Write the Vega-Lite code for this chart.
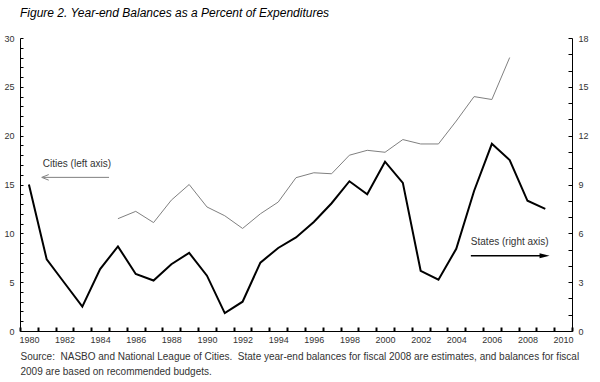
{
  "$schema": "https://vega.github.io/schema/vega-lite/v6.json",
  "width": 552,
  "height": 293,
  "padding": {"left": 3, "top": 7, "right": 5, "bottom": 5},
  "background": "#ffffff",
  "title": {
    "text": "Figure 2. Year-end Balances as a Percent of Expenditures",
    "anchor": "start",
    "frame": "group",
    "font": "Liberation Sans",
    "fontSize": 12,
    "fontStyle": "italic",
    "fontWeight": "normal",
    "color": "#000000",
    "offset": 14
  },
  "config": {
    "view": {"stroke": null},
    "axis": {
      "labelFont": "Liberation Sans",
      "titleFont": "Liberation Sans",
      "labelColor": "#333333",
      "domainColor": "#000000",
      "tickColor": "#000000",
      "grid": false,
      "labelOverlap": false,
      "labelFlush": false
    }
  },
  "datasets": {
    "cities": [
      {"year": 1985, "value": 11.5}, {"year": 1986, "value": 12.25}, {"year": 1987, "value": 11.1},
      {"year": 1988, "value": 13.4}, {"year": 1989, "value": 15.0}, {"year": 1990, "value": 12.7},
      {"year": 1991, "value": 11.8}, {"year": 1992, "value": 10.5}, {"year": 1993, "value": 12.0},
      {"year": 1994, "value": 13.2}, {"year": 1995, "value": 15.7}, {"year": 1996, "value": 16.2},
      {"year": 1997, "value": 16.1}, {"year": 1998, "value": 18.0}, {"year": 1999, "value": 18.5},
      {"year": 2000, "value": 18.3}, {"year": 2001, "value": 19.6}, {"year": 2002, "value": 19.15},
      {"year": 2003, "value": 19.15}, {"year": 2004, "value": 21.5}, {"year": 2005, "value": 24.0},
      {"year": 2006, "value": 23.7}, {"year": 2007, "value": 28.0}
    ],
    "states": [
      {"year": 1980, "value": 9.0}, {"year": 1981, "value": 4.4}, {"year": 1982, "value": 2.95},
      {"year": 1983, "value": 1.5}, {"year": 1984, "value": 3.8}, {"year": 1985, "value": 5.2},
      {"year": 1986, "value": 3.5}, {"year": 1987, "value": 3.1}, {"year": 1988, "value": 4.1},
      {"year": 1989, "value": 4.8}, {"year": 1990, "value": 3.4}, {"year": 1991, "value": 1.1},
      {"year": 1992, "value": 1.8}, {"year": 1993, "value": 4.2}, {"year": 1994, "value": 5.1},
      {"year": 1995, "value": 5.75}, {"year": 1996, "value": 6.7}, {"year": 1997, "value": 7.85},
      {"year": 1998, "value": 9.2}, {"year": 1999, "value": 8.4}, {"year": 2000, "value": 10.4},
      {"year": 2001, "value": 9.1}, {"year": 2002, "value": 3.7}, {"year": 2003, "value": 3.15},
      {"year": 2004, "value": 5.05}, {"year": 2005, "value": 8.6}, {"year": 2006, "value": 11.5},
      {"year": 2007, "value": 10.5}, {"year": 2008, "value": 8.0}, {"year": 2009, "value": 7.5}
    ],
    "notes": [
      {"year": 1980.78, "value": 17.1, "label": "Cities (left axis)"},
      {"year": 2004.82, "value": 9.08, "label": "States (right axis)"}
    ],
    "cityArrow": [{"year": 1980.8, "year2": 1984.5, "value": 15.73}],
    "cityHead": [{"year": 1980.72, "value": 15.73}],
    "stateArrow": [{"year": 2004.82, "year2": 2008.9, "value": 7.71}],
    "stateHead": [{"year": 2009.24, "value": 7.71}]
  },
  "layer": [
    {
      "encoding": {
        "x": {
          "field": "year",
          "type": "quantitative",
          "scale": {"domain": [1979.5, 2010.5], "nice": false, "zero": false},
          "axis": {
            "orient": "bottom",
            "values": [1979.5, 1980.5, 1981.5, 1982.5, 1983.5, 1984.5, 1985.5, 1986.5, 1987.5, 1988.5, 1989.5, 1990.5, 1991.5, 1992.5, 1993.5, 1994.5, 1995.5, 1996.5, 1997.5, 1998.5, 1999.5, 2000.5, 2001.5, 2002.5, 2003.5, 2004.5, 2005.5, 2006.5, 2007.5, 2008.5, 2009.5, 2010.5],
            "labels": false,
            "tickSize": -4,
            "tickWidth": 2,
            "domainWidth": 1,
            "title": null
          }
        },
        "y": {
          "field": "value",
          "type": "quantitative",
          "scale": {"domain": [0, 30], "nice": false, "zero": true},
          "axis": {
            "orient": "left",
            "values": [0, 1, 2, 3, 4, 5, 6, 7, 8, 9, 10, 11, 12, 13, 14, 15, 16, 17, 18, 19, 20, 21, 22, 23, 24, 25, 26, 27, 28, 29, 30],
            "labelExpr": "datum.value % 5 === 0 ? datum.label : ''",
            "tickSize": -3,
            "tickWidth": 1,
            "labelFontSize": 9,
            "labelPadding": 9,
            "title": null
          }
        }
      },
      "layer": [
        {"data": {"name": "cities"}, "mark": {"type": "line", "color": "#808080", "strokeWidth": 1}},
        {
          "data": {"name": "notes"},
          "mark": {"type": "text", "align": "left", "baseline": "middle", "font": "Liberation Sans", "fontSize": 10, "color": "#333333"},
          "encoding": {"text": {"field": "label", "type": "nominal"}}
        },
        {
          "data": {"name": "cityArrow"},
          "mark": {"type": "rule", "color": "#808080", "strokeWidth": 1},
          "encoding": {"x2": {"field": "year2"}}
        },
        {
          "data": {"name": "cityHead"},
          "mark": {"type": "point", "shape": "M2,-0.8L0,0L2,0.8", "filled": false, "stroke": "#808080", "strokeWidth": 1, "opacity": 1, "size": 49}
        },
        {
          "data": {"name": "stateArrow"},
          "mark": {"type": "rule", "color": "#000000", "strokeWidth": 1.5},
          "encoding": {"x2": {"field": "year2"}}
        },
        {
          "data": {"name": "stateHead"},
          "mark": {"type": "point", "shape": "M0,0L-2,-0.5L-2,0.5Z", "filled": true, "color": "#000000", "opacity": 1, "size": 100}
        }
      ]
    },
    {
      "data": {"name": "states"},
      "mark": {"type": "line", "color": "#000000", "strokeWidth": 2},
      "encoding": {
        "x": {
          "field": "year",
          "type": "quantitative",
          "axis": {
            "orient": "bottom",
            "values": [1980, 1982, 1984, 1986, 1988, 1990, 1992, 1994, 1996, 1998, 2000, 2002, 2004, 2006, 2008, 2010],
            "format": "d",
            "ticks": false,
            "domain": false,
            "labelFontSize": 9,
            "labelPadding": 4,
            "title": ["Source:\u00a0 NASBO and National League of Cities.\u00a0 State year-end balances for fiscal 2008 are estimates, and balances for fiscal", "2009 are based on recommended budgets."],
            "titleAnchor": "start",
            "titleAlign": "left",
            "titleFontSize": 10,
            "titleFontWeight": "normal",
            "titleColor": "#333333",
            "titleLineHeight": 15,
            "titlePadding": 7
          }
        },
        "y": {
          "field": "value",
          "type": "quantitative",
          "scale": {"domain": [0, 18], "nice": false, "zero": true},
          "axis": {
            "orient": "right",
            "values": [0, 1, 2, 3, 4, 5, 6, 7, 8, 9, 10, 11, 12, 13, 14, 15, 16, 17, 18],
            "labelExpr": "datum.value % 3 === 0 ? datum.label : ''",
            "tickSize": -4,
            "tickWidth": 1,
            "labelFontSize": 9,
            "labelPadding": 10,
            "title": null
          }
        }
      }
    }
  ],
  "resolve": {"scale": {"y": "independent"}, "axis": {"x": "independent"}}
}
